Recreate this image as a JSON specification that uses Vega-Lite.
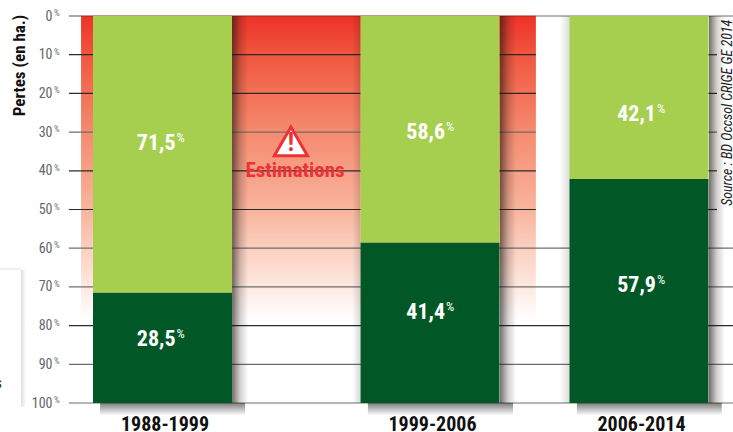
{
"$schema":"https://vega.github.io/schema/vega-lite/v6.json",
"width":733,"height":432,"padding":0,"autosize":"none","background":"white",
"resolve":{"axis":{"x":"independent","y":"independent"}},
"config":{"view":{"stroke":null},"text":{"font":"Roboto Condensed, Open Sans Condensed, DejaVu Sans Condensed, Roboto, sans-serif"},"axis":{"labelFont":"Roboto Condensed, Open Sans Condensed, DejaVu Sans Condensed, Roboto, sans-serif","titleFont":"Roboto Condensed, Open Sans Condensed, DejaVu Sans Condensed, Roboto, sans-serif"}},
"datasets":{
"barres":[
{"periode":"1988-1999","milieu":1993.5,"categorie":"claire","debut":0,"fin":71.5},
{"periode":"1988-1999","milieu":1993.5,"categorie":"foncee","debut":71.5,"fin":100},
{"periode":"1999-2006","milieu":2002.5,"categorie":"claire","debut":0,"fin":58.6},
{"periode":"1999-2006","milieu":2002.5,"categorie":"foncee","debut":58.6,"fin":100},
{"periode":"2006-2014","milieu":2010,"categorie":"claire","debut":0,"fin":42.1},
{"periode":"2006-2014","milieu":2010,"categorie":"foncee","debut":42.1,"fin":100}],
"etiquettes":[
{"texte":"71,5","xe":1993.94,"ye":32.8},
{"texte":"28,5","xe":1993.94,"ye":83.5},
{"texte":"58,6","xe":2003.04,"ye":30},
{"texte":"41,4","xe":2003.04,"ye":76.5},
{"texte":"42,1","xe":2010.61,"ye":25.3},
{"texte":"57,9","xe":2010.61,"ye":69.5}],
"traits":[
{"p":0,"de":1990.35,"a":1990.76,"style":"gris"},
{"p":0,"de":1990.76,"a":2006.30,"style":"rouge"},
{"p":0,"de":2006.30,"a":2013.37,"style":"gris"},
{"p":10,"de":1990.35,"a":2006.30,"style":"sombre"},{"p":10,"de":2012,"a":2012.8,"style":"sombre"},
{"p":20,"de":1990.35,"a":2006.30,"style":"sombre"},{"p":20,"de":2012,"a":2012.8,"style":"sombre"},
{"p":30,"de":1990.35,"a":2006.30,"style":"gris"},{"p":30,"de":2012,"a":2012.8,"style":"gris"},
{"p":40,"de":1990.35,"a":2006.30,"style":"sombre"},{"p":40,"de":2012,"a":2012.8,"style":"sombre"},
{"p":50,"de":1990.35,"a":2006.30,"style":"sombre"},{"p":50,"de":2012,"a":2012.8,"style":"sombre"},
{"p":60,"de":1990.35,"a":2013.37,"style":"gris"},
{"p":70,"de":1990.35,"a":2013.37,"style":"gris"},
{"p":80,"de":1990.35,"a":2013.37,"style":"sombre"},
{"p":90,"de":1990.35,"a":2013.37,"style":"gris"},
{"p":100,"de":1990.35,"a":2013.37,"style":"gris"}],
"graduations":[{"p":0},{"p":10},{"p":20},{"p":30},{"p":40},{"p":50},{"p":60},{"p":70},{"p":80},{"p":90},{"p":100}]
},
"layer":[
{"data":{"values":[{"de":1988.74,"a":1988.91,"h":65.6,"b":101}]},
 "mark":{"type":"rect","color":{"gradient":"linear","x1":0,"y1":0,"x2":1,"y2":0,"stops":[{"offset":0,"color":"rgba(0,0,0,0.13)"},{"offset":1,"color":"rgba(0,0,0,0)"}]}},
 "encoding":{"x":{"field":"de","type":"quantitative","axis":null,"scale":{"domain":[1993.5,2002.5,2010],"range":[162.5,430,639],"zero":false,"nice":false,"padding":0}},"x2":{"field":"a"},
 "y":{"field":"h","type":"quantitative","axis":null,"scale":{"domain":[0,100],"range":[16,403],"zero":false,"nice":false}},"y2":{"field":"b"}}},
{"data":{"values":[{"de":1988.03,"a":1988.74,"h":64.8,"b":65.6}]},
 "mark":{"type":"rect","color":{"gradient":"linear","x1":0,"y1":1,"x2":0,"y2":0,"stops":[{"offset":0,"color":"rgba(0,0,0,0.1)"},{"offset":1,"color":"rgba(0,0,0,0)"}]}},
 "encoding":{"x":{"field":"de","type":"quantitative","axis":null,"scale":{"domain":[1993.5,2002.5,2010],"range":[162.5,430,639],"zero":false,"nice":false,"padding":0}},"x2":{"field":"a"},
 "y":{"field":"h","type":"quantitative","axis":null,"scale":{"domain":[0,100],"range":[16,403],"zero":false,"nice":false}},"y2":{"field":"b"}}},
{"data":{"values":[{"de":1990.76,"a":2006.30,"h":0,"b":78.5}]},
 "mark":{"type":"rect","color":{"gradient":"linear","x1":0,"y1":0,"x2":0,"y2":1,"stops":[{"offset":0,"color":"#ee3228"},{"offset":0.13,"color":"#f0573f"},{"offset":0.38,"color":"#f58a6e"},{"offset":0.64,"color":"#f9b59e"},{"offset":0.8,"color":"#fcd6c8"},{"offset":1,"color":"#ffffff"}]}},
 "encoding":{"x":{"field":"de","type":"quantitative","axis":null,"scale":{"domain":[1993.5,2002.5,2010],"range":[162.5,430,639],"zero":false,"nice":false,"padding":0}},"x2":{"field":"a"},
 "y":{"field":"h","type":"quantitative","axis":null,"scale":{"domain":[0,100],"range":[16,403],"zero":false,"nice":false}},"y2":{"field":"b"}}},
{"data":{"name":"traits"},
 "mark":{"type":"rule","strokeWidth":1.2},
 "encoding":{
 "x":{"field":"de","type":"quantitative","scale":{"domain":[1993.5,2002.5,2010],"range":[162.5,430,639],"zero":false,"nice":false,"padding":0},
  "axis":{"title":null,"orient":"bottom","offset":-18,"domain":false,"ticks":false,"grid":false,"values":[1993.5,2002.5,2010],"labelExpr":"datum.value==1993.5?'1988-1999':datum.value==2002.5?'1999-2006':'2006-2014'","labelFontSize":20,"labelFontWeight":"bold","labelColor":"#111111","labelPadding":0,"labelOffset":2,"labelBaseline":"top","labelFlush":false,"labelOverlap":false}},
 "x2":{"field":"a"},
 "y":{"field":"p","type":"quantitative","scale":{"domain":[0,100],"range":[16,403],"zero":false,"nice":false},
  "axis":{"title":"Pertes (en ha.)","titleFontSize":17,"titleFontWeight":"bold","titleColor":"#111111","titleX":-33,"titleY":65,"titleAngle":-90,"titleAlign":"center","titleBaseline":"middle","orient":"left","offset":-52,"domain":false,"ticks":false,"grid":false,"values":[0,10,20,30,40,50,60,70,80,90,100],"format":"d","labelFontSize":14,"labelColor":"#666666","labelPadding":0}},
 "color":{"field":"style","type":"nominal","legend":null,"scale":{"domain":["sombre","gris","rouge","claire","foncee"],"range":["#2a2a2a","#6e6e6e","#8f2a20","#a7cf4f","#015826"]}}}},
{"data":{"values":[{"de":1995.84,"a":1996.38,"h":0,"b":100},{"de":2005.01,"a":2005.59,"h":0,"b":100},{"de":2012.51,"a":2013.08,"h":0,"b":100}]},
 "mark":{"type":"rect","color":{"gradient":"linear","x1":0,"y1":0,"x2":1,"y2":0,"stops":[{"offset":0,"color":"rgba(30,20,15,0.62)"},{"offset":0.5,"color":"rgba(30,20,15,0.2)"},{"offset":1,"color":"rgba(30,20,15,0)"}]}},
 "encoding":{"x":{"field":"de","type":"quantitative","axis":null,"scale":{"domain":[1993.5,2002.5,2010],"range":[162.5,430,639],"zero":false,"nice":false,"padding":0}},"x2":{"field":"a"},
 "y":{"field":"h","type":"quantitative","axis":null,"scale":{"domain":[0,100],"range":[16,403],"zero":false,"nice":false}},"y2":{"field":"b"}}},
{"data":{"values":[{"de":1999.88,"a":2000.15,"h":0,"b":100},{"de":2007.16,"a":2007.52,"h":0,"b":100}]},
 "mark":{"type":"rect","color":{"gradient":"linear","x1":0,"y1":0,"x2":1,"y2":0,"stops":[{"offset":0,"color":"rgba(0,0,0,0)"},{"offset":1,"color":"rgba(0,0,0,0.14)"}]}},
 "encoding":{"x":{"field":"de","type":"quantitative","axis":null,"scale":{"domain":[1993.5,2002.5,2010],"range":[162.5,430,639],"zero":false,"nice":false,"padding":0}},"x2":{"field":"a"},
 "y":{"field":"h","type":"quantitative","axis":null,"scale":{"domain":[0,100],"range":[16,403],"zero":false,"nice":false}},"y2":{"field":"b"}}},
{"data":{"values":[{"de":1991.4,"a":1996.28,"h":100,"b":103.2},{"de":2000.41,"a":2005.48,"h":100,"b":103.2},{"de":2007.77,"a":2012.97,"h":100,"b":103.2}]},
 "mark":{"type":"rect","color":{"gradient":"linear","x1":0,"y1":0,"x2":0,"y2":1,"stops":[{"offset":0,"color":"rgba(20,20,20,0.55)"},{"offset":1,"color":"rgba(20,20,20,0)"}]}},
 "encoding":{"x":{"field":"de","type":"quantitative","axis":null,"scale":{"domain":[1993.5,2002.5,2010],"range":[162.5,430,639],"zero":false,"nice":false,"padding":0}},"x2":{"field":"a"},
 "y":{"field":"h","type":"quantitative","axis":null,"scale":{"domain":[0,100],"range":[16,403],"zero":false,"nice":false}},"y2":{"field":"b"}}},
{"data":{"name":"barres"},
 "mark":{"type":"bar","width":139},
 "encoding":{"x":{"field":"milieu","type":"quantitative","axis":null,"scale":{"domain":[1993.5,2002.5,2010],"range":[162.5,430,639],"zero":false,"nice":false,"padding":0}},
 "y":{"field":"debut","type":"quantitative","axis":null,"scale":{"domain":[0,100],"range":[16,403],"zero":false,"nice":false}},"y2":{"field":"fin"},
 "color":{"field":"categorie","type":"nominal","legend":null,"scale":{"domain":["sombre","gris","rouge","claire","foncee"],"range":["#2a2a2a","#6e6e6e","#8f2a20","#a7cf4f","#015826"]}}}},
{"data":{"name":"etiquettes"},
 "mark":{"type":"text","align":"right","baseline":"middle","fontSize":22,"fontWeight":"bold","color":"#ffffff"},
 "encoding":{"x":{"field":"xe","type":"quantitative","axis":null,"scale":{"domain":[1993.5,2002.5,2010],"range":[162.5,430,639],"zero":false,"nice":false,"padding":0}},
 "y":{"field":"ye","type":"quantitative","axis":null,"scale":{"domain":[0,100],"range":[16,403],"zero":false,"nice":false}},"text":{"field":"texte"}}},
{"data":{"name":"etiquettes"},
 "transform":[{"calculate":"'%'","as":"s"}],
 "mark":{"type":"text","align":"left","baseline":"middle","fontSize":13,"color":"#ffffff","dx":1,"dy":-5},
 "encoding":{"x":{"field":"xe","type":"quantitative","axis":null,"scale":{"domain":[1993.5,2002.5,2010],"range":[162.5,430,639],"zero":false,"nice":false,"padding":0}},
 "y":{"field":"ye","type":"quantitative","axis":null,"scale":{"domain":[0,100],"range":[16,403],"zero":false,"nice":false}},"text":{"field":"s"}}},
{"data":{"name":"graduations"},
 "transform":[{"calculate":"'%'","as":"s"}],
 "mark":{"type":"text","align":"left","baseline":"middle","fontSize":9,"color":"#777777","dy":-3},
 "encoding":{"x":{"datum":1989.85,"type":"quantitative","axis":null,"scale":{"domain":[1993.5,2002.5,2010],"range":[162.5,430,639],"zero":false,"nice":false,"padding":0}},
 "y":{"field":"p","type":"quantitative","axis":null,"scale":{"domain":[0,100],"range":[16,403],"zero":false,"nice":false}},"text":{"field":"s"}}},
{"data":{"values":[{"xp":1997.82,"yp":32.4}]},
 "mark":{"type":"point","shape":"triangle-up","filled":true,"fill":"#ffffff","stroke":"#ec3237","strokeWidth":3,"size":1100,"opacity":1},
 "encoding":{"x":{"field":"xp","type":"quantitative","axis":null,"scale":{"domain":[1993.5,2002.5,2010],"range":[162.5,430,639],"zero":false,"nice":false,"padding":0}},
 "y":{"field":"yp","type":"quantitative","axis":null,"scale":{"domain":[0,100],"range":[16,403],"zero":false,"nice":false}}}},
{"data":{"values":[{"xp":1997.82,"yp":32.8,"t":"!"}]},
 "mark":{"type":"text","align":"center","baseline":"middle","fontSize":26,"fontWeight":"bold","color":"#ec3237"},
 "encoding":{"x":{"field":"xp","type":"quantitative","axis":null,"scale":{"domain":[1993.5,2002.5,2010],"range":[162.5,430,639],"zero":false,"nice":false,"padding":0}},
 "y":{"field":"yp","type":"quantitative","axis":null,"scale":{"domain":[0,100],"range":[16,403],"zero":false,"nice":false}},"text":{"field":"t"}}},
{"data":{"values":[{"xp":1997.96,"yp":40,"t":"Estimations"}]},
 "mark":{"type":"text","align":"center","baseline":"middle","fontSize":21,"fontWeight":"bold","color":"#ec3237"},
 "encoding":{"x":{"field":"xp","type":"quantitative","axis":null,"scale":{"domain":[1993.5,2002.5,2010],"range":[162.5,430,639],"zero":false,"nice":false,"padding":0}},
 "y":{"field":"yp","type":"quantitative","axis":null,"scale":{"domain":[0,100],"range":[16,403],"zero":false,"nice":false}},"text":{"field":"t"}}},
{"data":{"values":[{"xp":2013.2,"yp":25,"t":"Source : BD Occsol CRIGE GE 2014"}]},
 "mark":{"type":"text","align":"center","baseline":"middle","angle":270,"fontSize":14,"fontStyle":"italic","color":"#222222"},
 "encoding":{"x":{"field":"xp","type":"quantitative","axis":null,"scale":{"domain":[1993.5,2002.5,2010],"range":[162.5,430,639],"zero":false,"nice":false,"padding":0}},
 "y":{"field":"yp","type":"quantitative","axis":null,"scale":{"domain":[0,100],"range":[16,403],"zero":false,"nice":false}},"text":{"field":"t"}}},
{"data":{"values":[{"xp":1988.1,"yp":95,"t":"s"}]},
 "mark":{"type":"text","align":"right","baseline":"middle","fontSize":14,"color":"#222222"},
 "encoding":{"x":{"field":"xp","type":"quantitative","axis":null,"scale":{"domain":[1993.5,2002.5,2010],"range":[162.5,430,639],"zero":false,"nice":false,"padding":0}},
 "y":{"field":"yp","type":"quantitative","axis":null,"scale":{"domain":[0,100],"range":[16,403],"zero":false,"nice":false}},"text":{"field":"t"}}}
]
}
